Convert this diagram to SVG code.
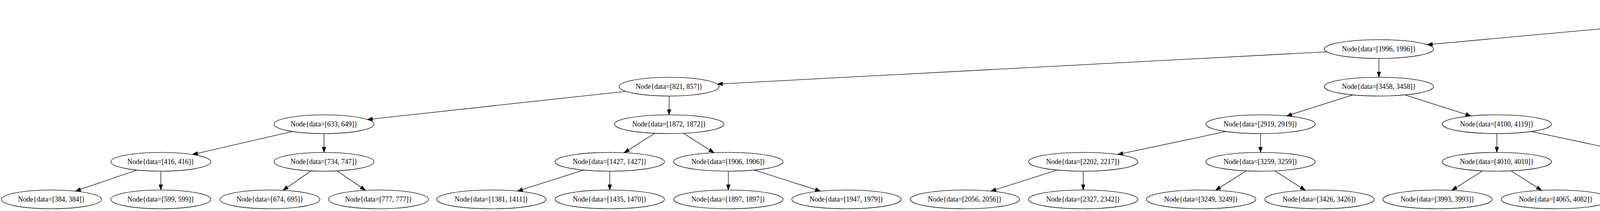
<svg xmlns="http://www.w3.org/2000/svg" width="7987" height="539" viewBox="0 0 7987 539">
<style>
.node ellipse{fill:none;stroke:#000;stroke-width:1.33}
.node text{font-family:"Liberation Serif","Times New Roman",serif;font-size:18px;text-anchor:middle;fill:#000}
.e{stroke:#000;stroke-width:1.33;fill:none;marker-end:url(#ah)}
</style>
<defs>
<marker id="ah" markerUnits="userSpaceOnUse" markerWidth="15" markerHeight="11" refX="13.33" refY="4.67" orient="auto" overflow="visible"><path d="M0,0 L13.33,4.67 L0,9.33 z" fill="#000" stroke="#000" stroke-width="1"/></marker>
</defs>
<rect x="0" y="0" width="7987" height="539" fill="#fff"/>
<g id="edges">
<line class="e" x1="4464.3" y1="40.5" x2="3653.7" y2="114.1"/>
<line class="e" x1="4717.5" y1="38.4" x2="5820.5" y2="116.2"/>
<line class="e" x1="3396.2" y1="132.4" x2="1836.2" y2="214.8"/>
<line class="e" x1="3530" y1="149.3" x2="3530" y2="197.3"/>
<line class="e" x1="5950" y1="149.3" x2="5950" y2="197.3"/>
<line class="e" x1="6075.7" y1="135.9" x2="6965.3" y2="210.7"/>
<line class="e" x1="1602.2" y1="233.3" x2="940.3" y2="305.3"/>
<line class="e" x1="1713" y1="245.3" x2="1713" y2="293.3"/>
<line class="e" x1="3463.4" y1="242.4" x2="3293.6" y2="296.2"/>
<line class="e" x1="3596.4" y1="242.4" x2="3765.6" y2="296.2"/>
<line class="e" x1="5883.4" y1="242.4" x2="5713.6" y2="296.2"/>
<line class="e" x1="6003" y1="243.5" x2="6126" y2="295.1"/>
<line class="e" x1="7091" y1="245.3" x2="7091" y2="293.3"/>
<line class="e" x1="7179.7" y1="239.9" x2="7461.3" y2="298.7"/>
<line class="e" x1="748.6" y1="335.9" x2="492.6" y2="394.7"/>
<line class="e" x1="829.5" y1="341.3" x2="829.5" y2="389.3"/>
<line class="e" x1="1676.3" y1="340.5" x2="1597.7" y2="390.1"/>
<line class="e" x1="1749.6" y1="340.5" x2="1827.9" y2="390.1"/>
<line class="e" x1="3138.8" y1="335.9" x2="2861.2" y2="394.7"/>
<line class="e" x1="3227" y1="341.3" x2="3227" y2="389.3"/>
<line class="e" x1="3832" y1="341.3" x2="3832" y2="389.3"/>
<line class="e" x1="3920.2" y1="335.9" x2="4197.8" y2="394.7"/>
<line class="e" x1="5558.8" y1="335.9" x2="5281.2" y2="394.7"/>
<line class="e" x1="5647" y1="341.3" x2="5647" y2="389.3"/>
<line class="e" x1="6179" y1="341.3" x2="6179" y2="389.3"/>
<line class="e" x1="6267.2" y1="335.9" x2="6545.8" y2="394.7"/>
<line class="e" x1="7054.5" y1="340.5" x2="6976.5" y2="390.1"/>
<line class="e" x1="7127.7" y1="340.5" x2="7206.3" y2="390.1"/>
<line class="e" x1="7550" y1="341.3" x2="7550" y2="389.3"/>
<line class="e" x1="7616.6" y1="338.4" x2="7786.4" y2="392.2"/>
<line class="e" x1="350.3" y1="434.4" x2="193.1" y2="488.2"/>
<line class="e" x1="411.7" y1="437.3" x2="411.7" y2="485.3"/>
<line class="e" x1="796.1" y1="436.5" x2="724.4" y2="486.1"/>
<line class="e" x1="863.1" y1="436.5" x2="935.4" y2="486.1"/>
<line class="e" x1="1494.4" y1="434.4" x2="1324.6" y2="488.2"/>
<line class="e" x1="1561" y1="437.3" x2="1561" y2="485.3"/>
<line class="e" x1="1864.5" y1="437.3" x2="1864.5" y2="485.3"/>
<line class="e" x1="1931" y1="434.4" x2="2100.5" y2="488.2"/>
<line class="e" x1="2706.4" y1="434.4" x2="2536.6" y2="488.2"/>
<line class="e" x1="2773" y1="437.3" x2="2773" y2="485.3"/>
<line class="e" x1="3190.3" y1="436.5" x2="3111.7" y2="486.1"/>
<line class="e" x1="3263.4" y1="436.5" x2="3341.6" y2="486.1"/>
<line class="e" x1="3795.3" y1="436.5" x2="3716.7" y2="486.1"/>
<line class="e" x1="3868.4" y1="436.5" x2="3946.6" y2="486.1"/>
<line class="e" x1="4286" y1="437.3" x2="4286" y2="485.3"/>
<line class="e" x1="4352.4" y1="434.4" x2="4521.6" y2="488.2"/>
<line class="e" x1="5126.6" y1="434.4" x2="4957.4" y2="488.2"/>
<line class="e" x1="5193" y1="437.3" x2="5193" y2="485.3"/>
<line class="e" x1="5610.6" y1="436.5" x2="5532.4" y2="486.1"/>
<line class="e" x1="5683.7" y1="436.5" x2="5762.3" y2="486.1"/>
<line class="e" x1="6159.9" y1="437.1" x2="6121.1" y2="485.5"/>
<line class="e" x1="6231.2" y1="435.6" x2="6351.8" y2="487.0"/>
<line class="e" x1="6652.1" y1="437.1" x2="6688.9" y2="485.5"/>
<line class="e" x1="6712.0" y1="433.2" x2="6932.0" y2="489.4"/>
<line class="e" x1="7853" y1="437.3" x2="7853" y2="485.3"/>
</g>
<g id="n4865" class="node"><ellipse cx="4588" cy="29.3" rx="140" ry="24"/><text x="4588" y="34.8">Node{data=[4865, 4867]}</text></g>
<g id="n1996" class="node"><ellipse cx="3530" cy="125.3" rx="140" ry="24"/><text x="3530" y="130.8">Node{data=[1996, 1996]}</text></g>
<g id="n7324" class="node"><ellipse cx="5950" cy="125.3" rx="140" ry="24"/><text x="5950" y="130.8">Node{data=[7324, 7324]}</text></g>
<g id="n821" class="node"><ellipse cx="1713" cy="221.3" rx="128" ry="24"/><text x="1713" y="226.8">Node{data=[821, 857]}</text></g>
<g id="n3458" class="node"><ellipse cx="3530" cy="221.3" rx="140" ry="24"/><text x="3530" y="226.8">Node{data=[3458, 3458]}</text></g>
<g id="n5624" class="node"><ellipse cx="5950" cy="221.3" rx="140" ry="24"/><text x="5950" y="226.8">Node{data=[5624, 5624]}</text></g>
<g id="n7926" class="node"><ellipse cx="7091" cy="221.3" rx="140" ry="24"/><text x="7091" y="226.8">Node{data=[7926, 7926]}</text></g>
<g id="n633" class="node"><ellipse cx="829.5" cy="317.3" rx="128" ry="24"/><text x="829.5" y="322.8">Node{data=[633, 649]}</text></g>
<g id="n1872" class="node"><ellipse cx="1713" cy="317.3" rx="140" ry="24"/><text x="1713" y="322.8">Node{data=[1872, 1872]}</text></g>
<g id="n2919" class="node"><ellipse cx="3227" cy="317.3" rx="140" ry="24"/><text x="3227" y="322.8">Node{data=[2919, 2919]}</text></g>
<g id="n4100" class="node"><ellipse cx="3832" cy="317.3" rx="140" ry="24"/><text x="3832" y="322.8">Node{data=[4100, 4119]}</text></g>
<g id="n4956" class="node"><ellipse cx="5647" cy="317.3" rx="140" ry="24"/><text x="5647" y="322.8">Node{data=[4956, 4956]}</text></g>
<g id="n6660" class="node"><ellipse cx="6179" cy="317.3" rx="140" ry="24"/><text x="6179" y="322.8">Node{data=[6660, 6660]}</text></g>
<g id="n7629" class="node"><ellipse cx="7091" cy="317.3" rx="140" ry="24"/><text x="7091" y="322.8">Node{data=[7629, 7629]}</text></g>
<g id="n9509" class="node"><ellipse cx="7550" cy="317.3" rx="140" ry="24"/><text x="7550" y="322.8">Node{data=[9509, 9509]}</text></g>
<g id="n416" class="node"><ellipse cx="411.7" cy="413.3" rx="128" ry="24"/><text x="411.7" y="418.8">Node{data=[416, 416]}</text></g>
<g id="n734" class="node"><ellipse cx="829.5" cy="413.3" rx="128" ry="24"/><text x="829.5" y="418.8">Node{data=[734, 747]}</text></g>
<g id="n1427" class="node"><ellipse cx="1561" cy="413.3" rx="140" ry="24"/><text x="1561" y="418.8">Node{data=[1427, 1427]}</text></g>
<g id="n1906" class="node"><ellipse cx="1864.5" cy="413.3" rx="140" ry="24"/><text x="1864.5" y="418.8">Node{data=[1906, 1906]}</text></g>
<g id="n2202" class="node"><ellipse cx="2773" cy="413.3" rx="140" ry="24"/><text x="2773" y="418.8">Node{data=[2202, 2217]}</text></g>
<g id="n3259" class="node"><ellipse cx="3227" cy="413.3" rx="140" ry="24"/><text x="3227" y="418.8">Node{data=[3259, 3259]}</text></g>
<g id="n4010" class="node"><ellipse cx="3832" cy="413.3" rx="140" ry="24"/><text x="3832" y="418.8">Node{data=[4010, 4010]}</text></g>
<g id="n4830" class="node"><ellipse cx="4286" cy="413.3" rx="140" ry="24"/><text x="4286" y="418.8">Node{data=[4830, 4830]}</text></g>
<g id="n4942" class="node"><ellipse cx="5193" cy="413.3" rx="140" ry="24"/><text x="5193" y="418.8">Node{data=[4942, 4942]}</text></g>
<g id="n5384" class="node"><ellipse cx="5647" cy="413.3" rx="140" ry="24"/><text x="5647" y="418.8">Node{data=[5384, 5395]}</text></g>
<g id="n5897" class="node"><ellipse cx="6179" cy="413.3" rx="140" ry="24"/><text x="6179" y="418.8">Node{data=[5897, 5897]}</text></g>
<g id="n6846" class="node"><ellipse cx="6634" cy="413.3" rx="140" ry="24"/><text x="6634" y="418.8">Node{data=[6846, 6877]}</text></g>
<g id="n7508" class="node"><ellipse cx="6940" cy="413.3" rx="140" ry="24"/><text x="6940" y="418.8">Node{data=[7508, 7508]}</text></g>
<g id="n7874" class="node"><ellipse cx="7243" cy="413.3" rx="140" ry="24"/><text x="7243" y="418.8">Node{data=[7874, 7874]}</text></g>
<g id="n8716" class="node"><ellipse cx="7550" cy="413.3" rx="140" ry="24"/><text x="7550" y="418.8">Node{data=[8716, 8716]}</text></g>
<g id="n9894" class="node"><ellipse cx="7853" cy="413.3" rx="140" ry="24"/><text x="7853" y="418.8">Node{data=[9894, 9911]}</text></g>
<g id="n384" class="node"><ellipse cx="131.7" cy="509.3" rx="128" ry="24"/><text x="131.7" y="514.8">Node{data=[384, 384]}</text></g>
<g id="n599" class="node"><ellipse cx="411.7" cy="509.3" rx="128" ry="24"/><text x="411.7" y="514.8">Node{data=[599, 599]}</text></g>
<g id="n674" class="node"><ellipse cx="691" cy="509.3" rx="128" ry="24"/><text x="691" y="514.8">Node{data=[674, 695]}</text></g>
<g id="n777" class="node"><ellipse cx="969" cy="509.3" rx="128" ry="24"/><text x="969" y="514.8">Node{data=[777, 777]}</text></g>
<g id="n1381" class="node"><ellipse cx="1258" cy="509.3" rx="140" ry="24"/><text x="1258" y="514.8">Node{data=[1381, 1411]}</text></g>
<g id="n1435" class="node"><ellipse cx="1561" cy="509.3" rx="140" ry="24"/><text x="1561" y="514.8">Node{data=[1435, 1470]}</text></g>
<g id="n1897" class="node"><ellipse cx="1864.5" cy="509.3" rx="140" ry="24"/><text x="1864.5" y="514.8">Node{data=[1897, 1897]}</text></g>
<g id="n1947" class="node"><ellipse cx="2167" cy="509.3" rx="140" ry="24"/><text x="2167" y="514.8">Node{data=[1947, 1979]}</text></g>
<g id="n2056" class="node"><ellipse cx="2470" cy="509.3" rx="140" ry="24"/><text x="2470" y="514.8">Node{data=[2056, 2056]}</text></g>
<g id="n2327" class="node"><ellipse cx="2773" cy="509.3" rx="140" ry="24"/><text x="2773" y="514.8">Node{data=[2327, 2342]}</text></g>
<g id="n3249" class="node"><ellipse cx="3075" cy="509.3" rx="140" ry="24"/><text x="3075" y="514.8">Node{data=[3249, 3249]}</text></g>
<g id="n3426" class="node"><ellipse cx="3378" cy="509.3" rx="140" ry="24"/><text x="3378" y="514.8">Node{data=[3426, 3426]}</text></g>
<g id="n3993" class="node"><ellipse cx="3680" cy="509.3" rx="140" ry="24"/><text x="3680" y="514.8">Node{data=[3993, 3993]}</text></g>
<g id="n4065" class="node"><ellipse cx="3983" cy="509.3" rx="140" ry="24"/><text x="3983" y="514.8">Node{data=[4065, 4082]}</text></g>
<g id="n4152" class="node"><ellipse cx="4286" cy="509.3" rx="140" ry="24"/><text x="4286" y="514.8">Node{data=[4152, 4152]}</text></g>
<g id="n4852" class="node"><ellipse cx="4588" cy="509.3" rx="140" ry="24"/><text x="4588" y="514.8">Node{data=[4852, 4852]}</text></g>
<g id="n4896" class="node"><ellipse cx="4891" cy="509.3" rx="140" ry="24"/><text x="4891" y="514.8">Node{data=[4896, 4929]}</text></g>
<g id="n4954" class="node"><ellipse cx="5193" cy="509.3" rx="140" ry="24"/><text x="5193" y="514.8">Node{data=[4954, 4954]}</text></g>
<g id="n5120" class="node"><ellipse cx="5496" cy="509.3" rx="140" ry="24"/><text x="5496" y="514.8">Node{data=[5120, 5120]}</text></g>
<g id="n5435" class="node"><ellipse cx="5799" cy="509.3" rx="140" ry="24"/><text x="5799" y="514.8">Node{data=[5435, 5435]}</text></g>
<g id="n5865" class="node"><ellipse cx="6102" cy="509.3" rx="140" ry="24"/><text x="6102" y="514.8">Node{data=[5865, 5865]}</text></g>
<g id="n6592" class="node"><ellipse cx="6404" cy="509.3" rx="140" ry="24"/><text x="6404" y="514.8">Node{data=[6592, 6592]}</text></g>
<g id="n6824" class="node"><ellipse cx="6707" cy="509.3" rx="140" ry="24"/><text x="6707" y="514.8">Node{data=[6824, 6824]}</text></g>
<g id="n7240" class="node"><ellipse cx="7010" cy="509.3" rx="140" ry="24"/><text x="7010" y="514.8">Node{data=[7240, 7240]}</text></g>
<g id="n9947" class="node"><ellipse cx="7853" cy="509.3" rx="140" ry="24"/><text x="7853" y="514.8">Node{data=[9947, 9947]}</text></g>
</svg>
